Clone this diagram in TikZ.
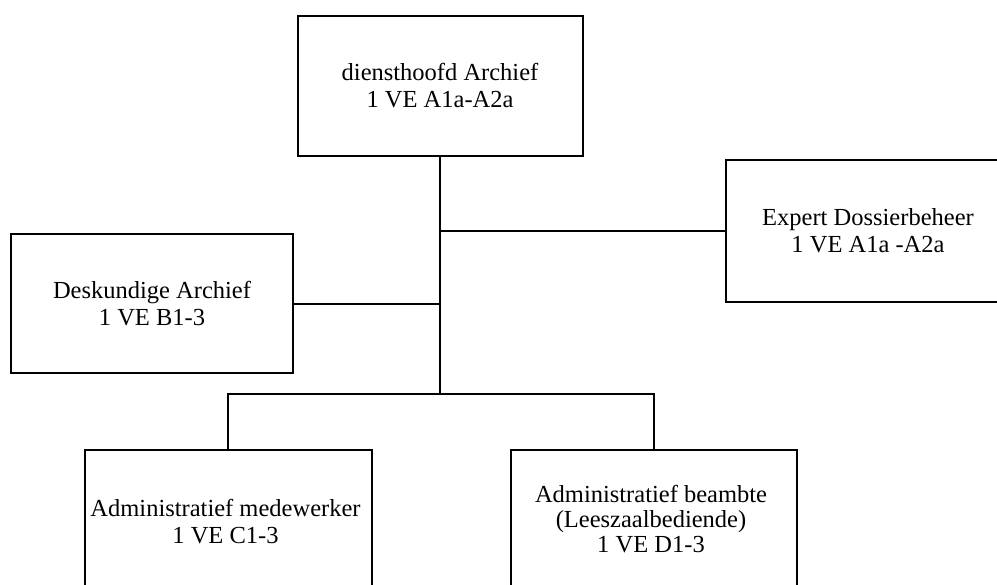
\documentclass[tikz,border=0pt]{standalone}
\usepackage{fontspec}
\setmainfont{Liberation Serif}
\begin{document}
\begin{tikzpicture}[x=1pt,y=1pt,
  box/.style={draw=black,line width=2pt,rectangle,align=center,inner sep=0pt,
    font=\fontsize{24.5}{27}\selectfont},
  txt/.style={align=center,inner sep=0pt,font=\fontsize{24.5}{27}\selectfont},
  conn/.style={draw=black,line width=1.3pt}]
\clip (0,0) rectangle (997,-585);
\useasboundingbox (0,0) rectangle (997,-585);
\node[box,minimum width=285pt,minimum height=140pt] (top) at (440,-86)
  {diensthoofd Archief\\1 VE A1a-A2a};
\node[box,minimum width=284pt,minimum height=142pt] (right) at (868,-231)
  {Expert Dossierbeheer\\1 VE A1a -A2a};
\node[box,minimum width=282pt,minimum height=139pt] (left) at (152,-303.5)
  {Deskundige Archief\\1 VE B1-3};
\node[box,minimum width=287pt,minimum height=180pt] (bl) at (228,-540) {};
\node[txt] (blt) at (225.5,-522) {Administratief medewerker\\1 VE C1-3};
\node[box,minimum width=286pt,minimum height=180pt] (br) at (654,-540) {};
\node[txt,font=\fontsize{24.5}{25}\selectfont] (brt) at (651,-519) {Administratief beambte\\(Leeszaalbediende)\\1 VE D1-3};
\coordinate (j) at (440,-394);
\coordinate (jr) at (440,-231);
\coordinate (jl) at (440,-304);
\draw[conn] (top.south) -- (j);
\draw[conn] (jr) -- (right.west);
\draw[conn] (left.east |- jl) -- (jl);
\draw[conn] (bl.north) |- (j) -| (br.north);
\end{tikzpicture}
\end{document}
